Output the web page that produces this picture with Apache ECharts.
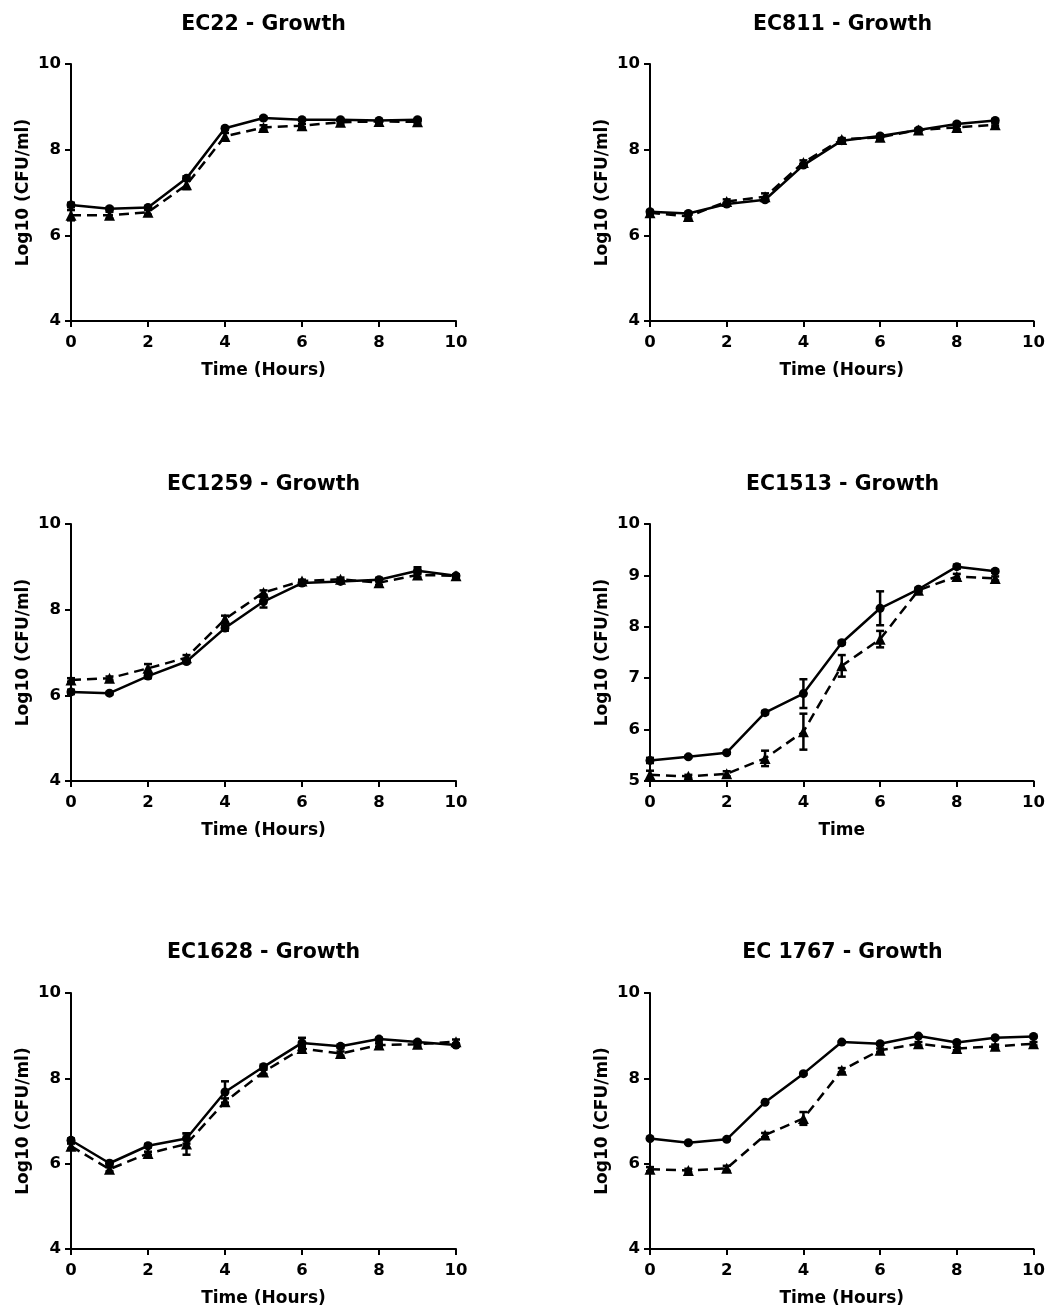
<!DOCTYPE html>
<html><head><meta charset="utf-8">
<script src="https://cdn.jsdelivr.net/npm/echarts@6/dist/echarts.min.js"></script>
<style>html,body{margin:0;padding:0;background:#fff}#c{width:1048px;height:1308px}</style>
</head><body><div id="c"></div>
<script>
// ---- data ----
const hours10 = [0,1,2,3,4,5,6,7,8,9];
const hours11 = [0,1,2,3,4,5,6,7,8,9,10];
const titles = ['EC22 - Growth','EC811 - Growth','EC1259 - Growth','EC1513 - Growth','EC1628 - Growth','EC 1767 - Growth'];
const xNames = ['Time (Hours)','Time (Hours)','Time (Hours)','Time','Time (Hours)','Time (Hours)'];
const yName = 'Log10 (CFU/ml)';
const yMins = [4,4,4,5,4,4];
const yIntervals = [2,2,2,1,2,2];

const ec22Solid      = [6.71,6.62,6.65,7.33,8.50,8.74,8.70,8.70,8.68,8.70];
const ec22SolidErr   = [0.05,0.03,0.03,0.05,0.03,0.03,0.02,0.02,0.02,0.02];
const ec22Dashed     = [6.47,6.47,6.54,7.18,8.31,8.52,8.56,8.64,8.66,8.65];
const ec22DashedErr  = [0.12,0.08,0.06,0.10,0.08,0.05,0.04,0.03,0.03,0.03];

const ec811Solid     = [6.55,6.51,6.73,6.83,7.64,8.21,8.32,8.46,8.60,8.68];
const ec811SolidErr  = [0.03,0.03,0.03,0.03,0.03,0.03,0.03,0.03,0.03,0.03];
const ec811Dashed    = [6.53,6.44,6.79,6.90,7.70,8.24,8.29,8.46,8.52,8.58];
const ec811DashedErr = [0.03,0.05,0.05,0.08,0.05,0.03,0.04,0.03,0.04,0.03];

const ec1259Solid     = [6.08,6.05,6.45,6.79,7.57,8.19,8.62,8.66,8.70,8.91,8.79];
const ec1259SolidErr  = [0.05,0.03,0.05,0.04,0.06,0.14,0.03,0.03,0.04,0.08,0.03];
const ec1259Dashed    = [6.36,6.40,6.63,6.88,7.78,8.40,8.67,8.71,8.63,8.81,8.79];
const ec1259DashedErr = [0.04,0.04,0.10,0.06,0.08,0.05,0.03,0.04,0.05,0.05,0.03];

const ec1513Solid     = [5.40,5.47,5.55,6.33,6.70,7.69,8.36,8.73,9.17,9.08];
const ec1513SolidErr  = [0.05,0.02,0.02,0.03,0.28,0.03,0.33,0.03,0.04,0.03];
const ec1513Dashed    = [5.12,5.09,5.14,5.44,5.96,7.24,7.76,8.71,8.98,8.94];
const ec1513DashedErr = [0.08,0.03,0.05,0.15,0.35,0.21,0.16,0.03,0.05,0.04];

const ec1628Solid     = [6.55,6.01,6.42,6.59,7.68,8.27,8.83,8.75,8.92,8.85,8.78];
const ec1628SolidErr  = [0.04,0.05,0.04,0.12,0.25,0.05,0.12,0.04,0.03,0.03,0.03];
const ec1628Dashed    = [6.41,5.87,6.24,6.46,7.45,8.15,8.70,8.58,8.78,8.80,8.86];
const ec1628DashedErr = [0.06,0.05,0.04,0.25,0.08,0.05,0.05,0.05,0.04,0.04,0.05];

const ec1767Solid     = [6.59,6.49,6.57,7.44,8.11,8.85,8.81,8.99,8.84,8.95,8.98];
const ec1767SolidErr  = [0.02,0.02,0.02,0.02,0.02,0.02,0.02,0.02,0.02,0.02,0.02];
const ec1767Dashed    = [5.87,5.84,5.89,6.67,7.06,8.19,8.66,8.81,8.70,8.75,8.81];
const ec1767DashedErr = [0.05,0.04,0.06,0.05,0.15,0.05,0.04,0.04,0.04,0.04,0.04];

const panels = [
  {x: hours10, s: ec22Solid,   se: ec22SolidErr,   d: ec22Dashed,   de: ec22DashedErr},
  {x: hours10, s: ec811Solid,  se: ec811SolidErr,  d: ec811Dashed,  de: ec811DashedErr},
  {x: hours11, s: ec1259Solid, se: ec1259SolidErr, d: ec1259Dashed, de: ec1259DashedErr},
  {x: hours10, s: ec1513Solid, se: ec1513SolidErr, d: ec1513Dashed, de: ec1513DashedErr},
  {x: hours11, s: ec1628Solid, se: ec1628SolidErr, d: ec1628Dashed, de: ec1628DashedErr},
  {x: hours11, s: ec1767Solid, se: ec1767SolidErr, d: ec1767Dashed, de: ec1767DashedErr}
];

// ---- layout ----
const grids = [
  {left: 71, top: 64,  width: 385, height: 257},
  {left: 650, top: 64, width: 385, height: 257},
  {left: 71, top: 524, width: 385, height: 257},
  {left: 650, top: 524, width: 385, height: 257},
  {left: 71, top: 993, width: 385, height: 256},
  {left: 650, top: 993, width: 385, height: 256}
];
const titleY = [25, 25, 485, 485, 953, 953];

const FONT = '"DejaVu Sans", sans-serif';
const axisLineStyle = {color: '#000', width: 2};

const xAxes = [], yAxes = [], series = [], graphics = [];
panels.forEach((p, i) => {
  const g = grids[i];
  graphics.push({
    type: 'text', x: g.left + g.width / 2, y: titleY[i],
    style: {text: titles[i], textAlign: 'center', textVerticalAlign: 'middle',
            font: 'bold 20.5px ' + FONT, fill: '#000'}
  });
  xAxes.push({
    type: 'value', gridIndex: i, min: 0, max: 10, interval: 2,
    name: xNames[i], nameLocation: 'middle', nameGap: 41,
    nameTextStyle: {fontFamily: FONT, fontWeight: 'bold', fontSize: 17, color: '#000'},
    axisLine: {show: true, onZero: false, lineStyle: axisLineStyle},
    axisTick: {show: true, length: 6, lineStyle: {color: '#000', width: 2}},
    axisLabel: {margin: 13, fontFamily: FONT, fontWeight: 'bold', fontSize: 16.5, color: '#000'},
    splitLine: {show: false}
  });
  yAxes.push({
    type: 'value', gridIndex: i, min: yMins[i], max: 10, interval: yIntervals[i],
    name: yName, nameLocation: 'middle', nameGap: 39,
    nameTextStyle: {fontFamily: FONT, fontWeight: 'bold', fontSize: 17, color: '#000'},
    axisLine: {show: true, onZero: false, lineStyle: axisLineStyle},
    axisTick: {show: true, length: 6, lineStyle: {color: '#000', width: 2}},
    axisLabel: {margin: 10, fontFamily: FONT, fontWeight: 'bold', fontSize: 16.5, color: '#000'},
    splitLine: {show: false}
  });
  const mk = (vals, errs, dashed) => {
    const data = p.x.map((t, k) => [t, vals[k], errs[k]]);
    series.push({
      type: 'custom', xAxisIndex: i, yAxisIndex: i, data: data, clip: false, z: 3,
      encode: {x: 0, y: 1},
      renderItem: (params, api) => {
        const x = api.value(0), y = api.value(1), e = api.value(2);
        const top = api.coord([x, y + e]);
        const bot = api.coord([x, y - e]);
        const hw = 4;
        const st = {stroke: '#000', lineWidth: 2.5};
        return {type: 'group', children: [
          {type: 'line', shape: {x1: top[0], y1: top[1], x2: bot[0], y2: bot[1]}, style: st},
          {type: 'line', shape: {x1: top[0] - hw, y1: top[1], x2: top[0] + hw, y2: top[1]}, style: st},
          {type: 'line', shape: {x1: bot[0] - hw, y1: bot[1], x2: bot[0] + hw, y2: bot[1]}, style: st}
        ]};
      }
    });
    series.push({
      type: 'line', xAxisIndex: i, yAxisIndex: i, data: data.map(d => [d[0], d[1]]),
      symbol: dashed ? 'triangle' : 'circle', symbolSize: dashed ? 11 : 9,
      showSymbol: true, clip: false, z: 4,
      lineStyle: {color: '#000', width: 2.5, type: dashed ? [10, 6] : 'solid'},
      itemStyle: {color: '#000', borderWidth: 0},
      emphasis: {disabled: true}
    });
  };
  mk(p.d, p.de, true);
  mk(p.s, p.se, false);
});

const chart = echarts.init(document.getElementById('c'), null, {renderer: 'canvas'});
chart.setOption({
  backgroundColor: '#fff',
  animation: false,
  grid: grids,
  xAxis: xAxes,
  yAxis: yAxes,
  series: series,
  graphic: graphics
});
</script>
</body></html>
